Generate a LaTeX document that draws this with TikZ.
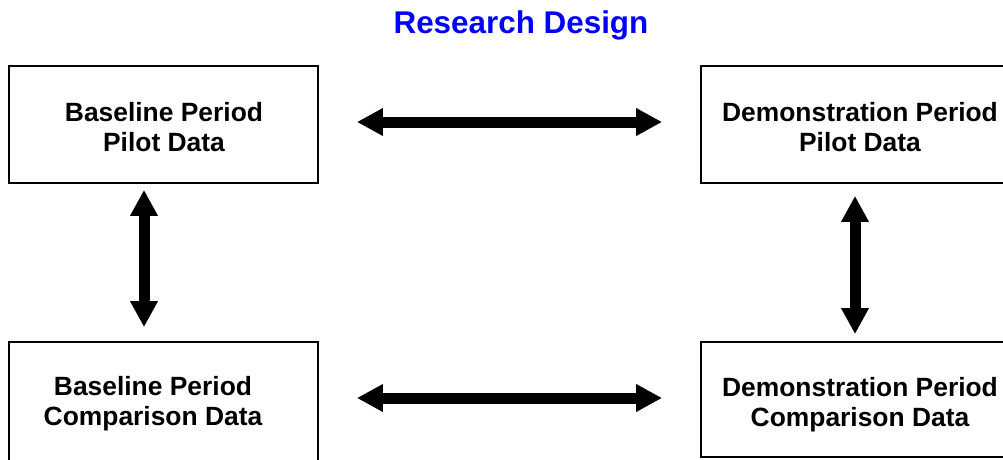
\documentclass[tikz,border=0pt]{standalone}
\usepackage{fontspec}
\setmainfont{Liberation Sans}
\usetikzlibrary{arrows.meta}
\tikzset{
  box/.style={draw=black, line width=1.8pt, rectangle, inner sep=0pt},
  lbl/.style={font=\bfseries\fontsize{26.4}{30}\selectfont, align=center, inner sep=0pt},
  dbl/.style={line width=11pt, {Triangle[width=26pt,length=26pt]}-{Triangle[width=26pt,length=26pt]}},
}
\begin{document}
\begin{tikzpicture}[x=1pt,y=-1pt]
\useasboundingbox (0,0) rectangle (1003,460);
\clip (0,0) rectangle (1003,460);
\node[font=\bfseries\fontsize{31.4}{36}\selectfont, text=blue, anchor=base, inner sep=0pt] (title) at (521,33.3) {Research Design};
\node[box, minimum width=309pt, minimum height=117pt] (tl) at (163.5,124.5) {};
\node[box, minimum width=316pt, minimum height=117pt] (tr) at (859,124.5) {};
\node[box, minimum width=309pt, minimum height=122pt] (bl) at (163.5,403) {};
\node[box, minimum width=316pt, minimum height=115pt] (br) at (859,399.5) {};
\node[lbl] (tlt) at (164,127) {Baseline Period\\Pilot Data};
\node[lbl] (trt) at (860,127) {Demonstration Period\\Pilot Data};
\node[lbl] (blt) at (153,404) {Baseline Period\\Comparison Data};
\node[lbl] (brt) at (860,405) {Demonstration Period\\Comparison Data};
\draw[dbl, shorten <=38pt, shorten >=38pt] ([yshift=2.5pt]tl.east) -- ([yshift=2.5pt]tr.west);
\draw[dbl, shorten <=38pt, shorten >=38pt] ([yshift=1.5pt]bl.east |- br.west) -- ([yshift=1.5pt]br.west);
\draw[dbl, shorten <=6pt, shorten >=14pt] ([xshift=-19.5pt]tl.south) -- ([xshift=-19.5pt]tl.south |- bl.north);
\draw[dbl, shorten <=12pt, shorten >=7pt] ([xshift=-4pt]tr.south) -- ([xshift=-4pt]br.north);
\end{tikzpicture}
\end{document}
